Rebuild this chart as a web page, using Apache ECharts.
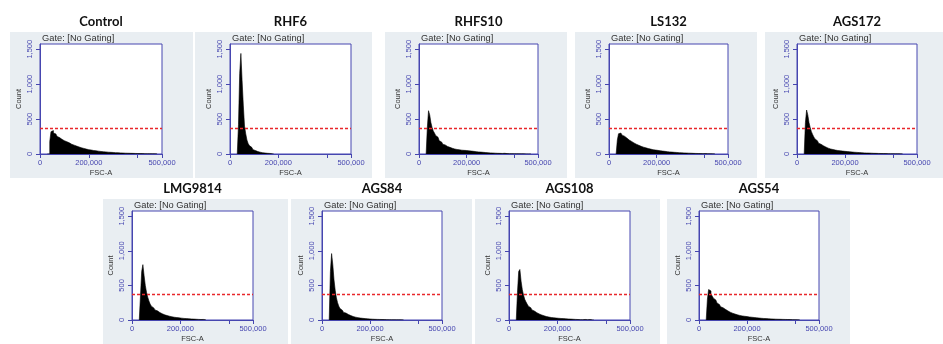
<!DOCTYPE html>
<html>
<head>
<meta charset="utf-8">
<script src="https://cdn.jsdelivr.net/npm/echarts@6/dist/echarts.min.js"></script>
<style>
  html, body { margin: 0; padding: 0; background: #fff; }
  #main { width: 943px; height: 344px; }
</style>
</head>
<body>
<div id="main"></div>
<script>
// 样本名称
const sampleNames = ['Control', 'RHF6', 'RHFS10', 'LS132', 'AGS172', 'LMG9814', 'AGS84', 'AGS108', 'AGS54'];

// 直方图分箱: 从 30,000 开始, 每箱 5,000
const binStart = 30000;
const binStep = 5000;

const control = [0, 0, 180, 320, 335, 300, 288, 268, 252, 236, 230, 210, 206, 190, 184, 176, 165, 160, 150, 140, 132, 127, 118, 113, 104, 101, 94, 89, 86, 80, 77, 70, 69, 62, 60, 57, 55, 50, 49, 46, 42, 41, 38, 36, 35, 32, 31, 30, 28, 26, 25, 24, 22, 22, 20, 19, 18, 18, 16, 16, 15, 14, 14, 12, 12, 11, 10, 10, 9, 9, 8, 8, 7, 7, 12, 6, 5, 6, 5, 4, 5, 4, 3, 4, 3, 3, 2, 3, 2, 2, 0];
const rhf6 = [0, 420, 1150, 1440, 1050, 700, 400, 290, 200, 150, 120, 95, 75, 62, 50, 42, 35, 30, 26, 22, 18, 16, 14, 12, 10, 9, 8, 12, 5, 3, 0];
const rhfs10 = [0, 380, 620, 560, 450, 380, 330, 300, 265, 240, 215, 190, 172, 155, 140, 130, 118, 108, 100, 95, 88, 82, 78, 72, 68, 65, 62, 60, 57, 55, 54, 52, 50, 50, 48, 45, 44, 42, 40, 38, 36, 34, 32, 30, 28, 27, 25, 24, 22, 21, 20, 18, 17, 16, 15, 14, 13, 12, 11, 10, 10, 9, 8, 8, 7, 10, 6, 6, 5, 5, 4, 5, 4, 3, 3, 3, 2, 2, 2, 2, 2, 2, 2, 1, 2, 1, 3, 1, 0];
const ls132 = [0, 200, 290, 300, 285, 270, 255, 240, 228, 215, 200, 190, 180, 168, 158, 150, 140, 132, 125, 118, 110, 104, 98, 92, 88, 82, 78, 74, 70, 66, 62, 60, 57, 55, 52, 50, 47, 45, 42, 40, 38, 36, 34, 32, 30, 28, 27, 26, 24, 23, 22, 20, 19, 18, 17, 16, 15, 14, 14, 13, 12, 11, 11, 10, 9, 9, 8, 8, 7, 7, 6, 6, 5, 5, 6, 4, 4, 3, 4, 3, 2, 3, 2, 0];
const ags172 = [0, 450, 630, 560, 450, 380, 320, 280, 245, 215, 190, 172, 155, 140, 128, 118, 108, 100, 92, 84, 78, 72, 68, 64, 60, 56, 53, 50, 48, 46, 44, 42, 40, 38, 36, 35, 33, 31, 30, 28, 27, 25, 24, 23, 22, 20, 19, 18, 17, 16, 15, 14, 14, 13, 12, 12, 11, 10, 10, 9, 9, 8, 8, 7, 7, 6, 6, 6, 5, 5, 5, 4, 4, 4, 3, 3, 3, 3, 2, 2, 18, 2, 0];
const lmg9814 = [0, 350, 700, 800, 640, 500, 400, 330, 275, 230, 200, 175, 158, 145, 132, 120, 108, 98, 90, 82, 75, 70, 64, 60, 55, 50, 46, 43, 40, 37, 35, 33, 31, 29, 27, 25, 23, 22, 20, 19, 18, 16, 15, 14, 13, 12, 11, 10, 9, 8, 7, 6, 8, 5, 4, 0];
const ags84 = [0, 700, 960, 800, 580, 430, 320, 250, 200, 165, 140, 122, 110, 100, 90, 80, 72, 64, 57, 50, 45, 41, 37, 34, 31, 28, 26, 24, 22, 20, 18, 17, 15, 14, 13, 12, 11, 10, 10, 9, 8, 8, 7, 7, 6, 6, 5, 5, 6, 4, 4, 3, 4, 3, 3, 2, 3, 2, 2, 2, 2, 1, 0];
const ags108 = [0, 400, 700, 730, 560, 440, 360, 300, 262, 230, 200, 178, 160, 145, 130, 118, 106, 96, 88, 80, 73, 66, 60, 55, 50, 46, 42, 39, 36, 34, 32, 30, 28, 27, 25, 24, 22, 21, 20, 18, 17, 16, 15, 14, 13, 12, 11, 10, 9, 8, 7, 6, 5, 5, 4, 4, 8, 3, 3, 2, 6, 2, 2, 2, 0];
const ags54 = [0, 300, 440, 420, 380, 345, 315, 290, 268, 245, 225, 208, 192, 178, 165, 154, 142, 132, 122, 113, 105, 98, 92, 86, 80, 75, 70, 66, 62, 59, 56, 54, 52, 49, 46, 44, 42, 40, 38, 36, 34, 32, 30, 28, 26, 25, 24, 22, 21, 20, 19, 18, 17, 16, 15, 14, 13, 12, 12, 11, 10, 10, 9, 9, 8, 8, 7, 7, 6, 6, 5, 5, 4, 4, 4, 3, 3, 2, 0];
const counts = [control, rhf6, rhfs10, ls132, ags172, lmg9814, ags84, ags108, ags54];

// 刻度
const yTicks = [0, 500, 1000, 1500];
const xTicks = [0, 200000, 400000, 500000];
const xLabels = [0, 200000, 500000];
const gateLevel = 365;

// 布局: plot [left, top, width, height], bg [x, y, w, h]
const layout = [
  { plot: [40, 44, 122, 110], bg: [10, 32, 183, 146] },
  { plot: [230, 44, 121, 110], bg: [195, 32, 177, 146] },
  { plot: [419, 44, 119, 110], bg: [385, 32, 182, 146] },
  { plot: [609, 44, 119, 110], bg: [575, 32, 182, 146] },
  { plot: [797, 44, 120, 110], bg: [765, 32, 178, 146] },
  { plot: [132, 211, 121, 109], bg: [103, 199, 185, 145] },
  { plot: [322, 211, 120, 109], bg: [291, 199, 181, 145] },
  { plot: [509, 211, 121, 109], bg: [475, 199, 185, 145] },
  { plot: [699, 211, 120, 109], bg: [667, 199, 183, 145] },
];

const axisColor = '#4646b0';
const gateColor = '#e8262b';

// 千分位格式
function formatterValue(v) {
  return String(v).replace(/\B(?=(\d{3})+(?!\d))/g, ',');
}

const grids = [];
const xAxes = [];
const yAxes = [];
const series = [];
const graphics = [];

sampleNames.forEach((name, i) => {
  const p = layout[i];
  // 面板背景 + 白色绘图区 (放在最底层)
  graphics.push({
    type: 'rect', z: -20, silent: true,
    shape: { x: p.bg[0], y: p.bg[1], width: p.bg[2], height: p.bg[3] },
    style: { fill: '#e9eef2' },
  });
  graphics.push({
    type: 'rect', z: -19, silent: true,
    shape: { x: p.plot[0], y: p.plot[1], width: p.plot[2], height: p.plot[3] },
    style: { fill: '#fff', stroke: axisColor, lineWidth: 1 },
  });
  // 标题
  graphics.push({
    type: 'text', z: 1,
    x: p.plot[0] + p.plot[2] / 2, y: p.bg[1] - 10,
    style: { text: name, font: 'bold 13px Lato', fill: '#111', textAlign: 'center', textVerticalAlign: 'middle' },
  });
  graphics.push({
    type: 'text', z: 1,
    x: p.plot[0] + 2, y: p.plot[1] - 6,
    style: { text: 'Gate: [No Gating]', font: '9.3px "Liberation Sans"', fill: '#333', textAlign: 'left', textVerticalAlign: 'middle' },
  });

  grids.push({
    left: p.plot[0], top: p.plot[1], width: p.plot[2], height: p.plot[3],
  });
  xAxes.push({
    gridIndex: i, type: 'value', min: 0, max: 500000,
    axisLine: { show: true, lineStyle: { color: axisColor, width: 1 } },
    axisTick: { show: true, length: 4, customValues: xTicks, lineStyle: { color: axisColor } },
    axisLabel: { customValues: xLabels, color: axisColor, fontSize: 7.5, fontFamily: 'Liberation Sans', margin: 5, formatter: formatterValue },
    splitLine: { show: false },
    name: 'FSC-A', nameLocation: 'middle', nameGap: 15,
    nameTextStyle: { color: '#333', fontSize: 7.5, fontFamily: 'Liberation Sans' },
  });
  yAxes.push({
    gridIndex: i, type: 'value', min: 0, max: 1575,
    axisLine: { show: true, lineStyle: { color: axisColor, width: 1 } },
    axisTick: { show: true, length: 4, customValues: yTicks, lineStyle: { color: axisColor } },
    axisLabel: { customValues: yTicks, rotate: 90, color: axisColor, fontSize: 7.5, fontFamily: 'Liberation Sans', margin: 6, formatter: formatterValue },
    splitLine: { show: false },
    name: 'Count', nameLocation: 'middle', nameGap: 17,
    nameTextStyle: { color: '#333', fontSize: 7.5, fontFamily: 'Liberation Sans' },
  });
  series.push({
    type: 'line', xAxisIndex: i, yAxisIndex: i,
    step: 'end', symbol: 'none',
    data: counts[i].map((c, k) => [binStart + k * binStep, c]),
    lineStyle: { color: '#000', width: 0.6 },
    areaStyle: { color: '#000', opacity: 1 },
    markLine: {
      silent: true, symbol: 'none', label: { show: false },
      lineStyle: { color: gateColor, type: [3, 2], width: 1.4, opacity: 1 },
      emphasis: { disabled: true },
      data: [{ yAxis: gateLevel, lineStyle: { color: gateColor } }],
    },
  });
});

const option = {
  animation: false,
  backgroundColor: '#fff',
  graphic: graphics,
  grid: grids,
  xAxis: xAxes,
  yAxis: yAxes,
  series: series,
};

const myChart = echarts.init(document.getElementById('main'));
myChart.setOption(option);
</script>
</body>
</html>
